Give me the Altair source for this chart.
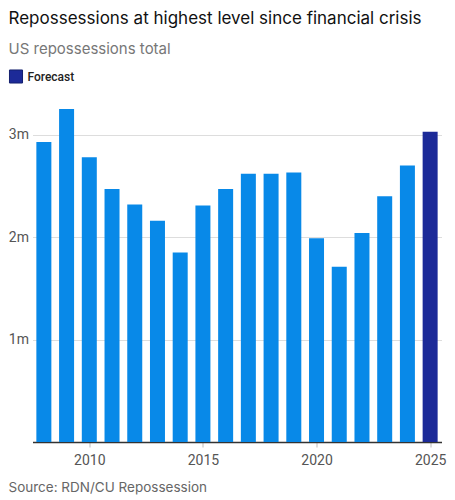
import altair as alt
import pandas as pd

years = list(range(2008, 2026))
totals = [2.93, 3.25, 2.78, 2.47, 2.32, 2.16, 1.85, 2.31, 2.47, 2.62,
          2.62, 2.63, 1.99, 1.71, 2.04, 2.40, 2.70, 3.03]
kinds = ["Actual"] * 17 + ["Forecast"]
source_note = ["Source: RDN/CU Repossession"]

df = pd.DataFrame({"year": years, "total": totals, "kind": kinds})

narrow = "Roboto, sans-serif"

bars = alt.Chart(df).mark_bar().transform_calculate(
    x0="datum.year - 0.33", x1="datum.year + 0.33"
).encode(
    x=alt.X("x0:Q", title=None,
        scale=alt.Scale(domain=[2007.5, 2025.5], nice=False, zero=False),
        axis=alt.Axis(values=[2010, 2015, 2020, 2025], format="d", grid=False,
            domainColor="#333333", domainWidth=1.5, tickColor="#bbbbbb", tickSize=5,
            labelFont=narrow, labelFontSize=14, labelColor="#555555", labelPadding=6)),
    x2="x1:Q",
    y=alt.Y("total:Q", title=None,
        scale=alt.Scale(domain=[0, 3.3], nice=False),
        axis=alt.Axis(values=[1, 2, 3], labelExpr="datum.value + 'm'", domain=False, ticks=False,
            gridColor="#dddddd", labelFont=narrow, labelFontSize=14, labelColor="#555555",
            labelPadding=4)),
    y2=alt.datum(0),
    color=alt.Color("kind:N", title=None,
        scale=alt.Scale(domain=["Actual", "Forecast"], range=["#0889e8", "#1c2a98"]),
        legend=alt.Legend(values=["Forecast"], orient="none", legendX=-24, legendY=-35,
            symbolType="square", symbolSize=170, symbolStrokeColor="#14206e", symbolStrokeWidth=1,
            labelFont=narrow, labelFontSize=12, labelColor="#222222", labelFontWeight=500)),
)

source = alt.Chart(pd.DataFrame({"note": source_note})).mark_text(
    align="left", baseline="alphabetic",
    font="Inter, sans-serif", fontSize=13.5, color="#666666"
).encode(text="note:N", x=alt.value(-24), y=alt.value(388))

chart = alt.layer(bars, source).properties(
    width=409, height=338,
    autosize=alt.AutoSizeParams(type="none"),
    padding={"left": 24.5, "top": 96, "right": 5, "bottom": 56},
    title=alt.TitleParams(
        "Repossessions at highest level since financial crisis",
        subtitle="US repossessions total",
        anchor="start", frame="group", dx=-24, offset=11,
        font="Inter, sans-serif", fontSize=17, fontWeight="normal", color="#111111",
        subtitleFont="Inter, sans-serif", subtitleFontSize=15, subtitleColor="#777777",
        subtitlePadding=14)
).configure_view(stroke=None)

chart.save("out.html", embed_options={"renderer": "svg", "actions": False})
